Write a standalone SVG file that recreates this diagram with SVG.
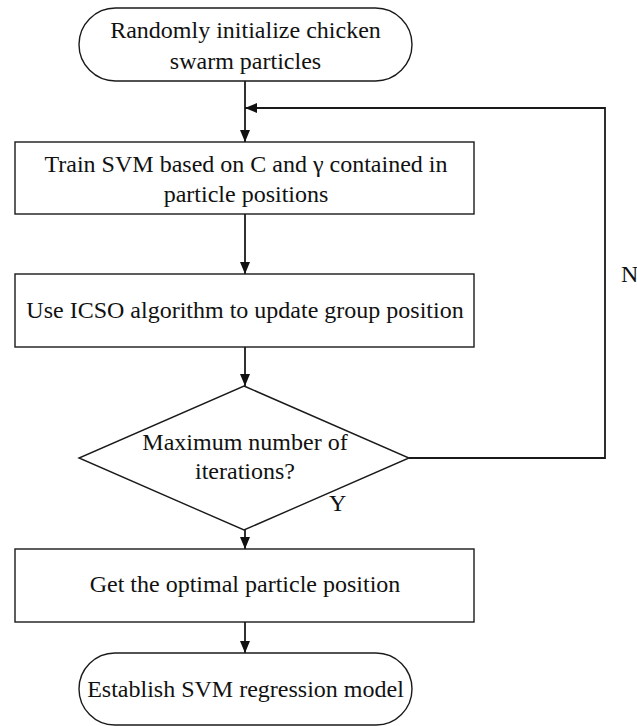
<svg xmlns="http://www.w3.org/2000/svg" width="637" height="726" viewBox="0 0 637 726">
  <style>
    .shape { fill: #ffffff; stroke: #1a1a1a; stroke-width: 1.4; }
    .wire { fill: none; stroke: #1a1a1a; stroke-width: 1.8; }
    .t { font-family: 'Liberation Serif', 'Times New Roman', 'DejaVu Serif', serif; font-size: 24px; fill: #111111; text-anchor: middle; }
    .lbl { text-anchor: start; }
  </style>
  <defs>
    <marker id="arrow" viewBox="0 0 12 10" refX="12" refY="5" markerWidth="12" markerHeight="10" markerUnits="userSpaceOnUse" orient="auto">
      <path d="M0,0 L12,5 L0,10 Z" fill="#111111"/>
    </marker>
  </defs>

  <rect width="637" height="726" fill="#ffffff"/>

  <g id="connectors">
    <line class="wire" x1="245" y1="81" x2="245" y2="142" marker-end="url(#arrow)"/>
    <line class="wire" x1="245" y1="214" x2="245" y2="274" marker-end="url(#arrow)"/>
    <line class="wire" x1="245" y1="347" x2="245" y2="386" marker-end="url(#arrow)"/>
    <line class="wire" x1="245" y1="530" x2="245" y2="549" marker-end="url(#arrow)"/>
    <line class="wire" x1="245" y1="622" x2="245" y2="653" marker-end="url(#arrow)"/>
    <polyline class="wire" points="409,458 605,458 605,108 245,108" marker-end="url(#arrow)"/>
    <text class="t lbl" x="621" y="282">N</text>
    <text class="t lbl" x="329" y="511">Y</text>
  </g>

  <g id="start">
    <rect class="shape" x="79" y="8" width="333" height="73" rx="36.5" ry="36.5"/>
    <text class="t" x="245.5" y="38">Randomly initialize chicken</text>
    <text class="t" x="245.5" y="69">swarm particles</text>
  </g>

  <g id="train">
    <rect class="shape" x="15" y="142" width="459" height="72"/>
    <text class="t" x="246" y="172">Train SVM based on C and γ contained in</text>
    <text class="t" x="246" y="202">particle positions</text>
  </g>

  <g id="update">
    <rect class="shape" x="15" y="274" width="459" height="73"/>
    <text class="t" x="245" y="318">Use ICSO algorithm to update group position</text>
  </g>

  <g id="check">
    <polygon class="shape" points="244,386 409,458 244,530 79,458"/>
    <text class="t" x="245" y="450">Maximum number of</text>
    <text class="t" x="245" y="479">iterations?</text>
  </g>

  <g id="optimal">
    <rect class="shape" x="15" y="549" width="459" height="73"/>
    <text class="t" x="245" y="592">Get the optimal particle position</text>
  </g>

  <g id="finish">
    <rect class="shape" x="79" y="653" width="333" height="72" rx="36" ry="36"/>
    <text class="t" x="245.5" y="697">Establish SVM regression model</text>
  </g>
</svg>
